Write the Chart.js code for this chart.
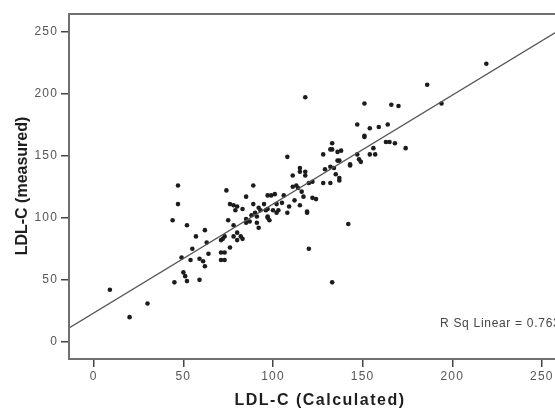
<!DOCTYPE html>
<html>
<head>
<meta charset="utf-8">
<script src="https://cdn.jsdelivr.net/npm/chart.js@4"></script>
<style>
  html, body { margin: 0; padding: 0; background: #fff; overflow: hidden; }
  #wrap { position: relative; width: 575px; height: 409px; }
</style>
</head>
<body>
<div id="wrap"><canvas id="chart"></canvas></div>
<script>
// LDL-C (Calculated) vs LDL-C (measured)
const calcX = [
  9, 20, 30, 45, 47, 47, 44, 52, 49, 50, 51, 52, 57, 55, 54, 59, 59, 61, 62, 62,
  63, 64, 71, 72, 73, 71, 73, 71, 73, 76, 74, 76, 78, 80, 83, 79, 75, 78, 80, 82,
  78, 83, 80, 85, 85, 87, 85, 89, 89, 90, 91, 93, 96, 91, 92, 97, 97, 95, 88, 92,
  97, 100, 103, 102, 108, 97, 98, 99, 101, 106, 102, 105, 109, 112, 115, 117, 119, 119, 122, 124,
  116, 114, 111, 113, 120, 122, 128, 132, 137, 137, 135, 129, 132, 134, 115, 118, 118, 111, 115, 108,
  118, 128, 132, 133, 136, 138, 133, 136, 137, 143, 143, 147, 148, 149, 154, 157, 156, 151, 151, 163,
  165, 168, 174, 147, 154, 159, 164, 151, 166, 170, 186, 194, 219, 142, 120, 133
];
const measY = [
  42, 20, 31, 48, 126, 111, 98, 94, 68, 56, 53, 49, 85, 75, 66, 50, 67, 65, 90, 61,
  80, 71, 82, 83, 85, 72, 72, 66, 66, 76, 122, 111, 110, 109, 107, 106, 98, 94, 88, 85,
  85, 83, 82, 117, 99, 97, 96, 111, 126, 104, 101, 106, 106, 96, 92, 100, 118, 111, 102, 108,
  107, 106, 106, 104, 104, 101, 98, 118, 119, 118, 111, 112, 109, 114, 110, 117, 105, 104, 116, 115,
  121, 124, 125, 126, 128, 129, 128, 128, 130, 132, 135, 139, 141, 140, 137, 137, 134, 134, 140, 149,
  197, 151, 155, 160, 153, 154, 155, 146, 146, 143, 142, 151, 147, 145, 151, 151, 156, 165, 166, 161,
  161, 160, 156, 175, 172, 173, 175, 192, 191, 190, 207, 192, 224, 95, 75, 48
];
// fit line end points
const fitX = [-14, 270];
const fitY = [11, 260];
const xTicks = [0, 50, 100, 150, 200, 250];
const yTicks = [0, 50, 100, 150, 200, 250];
const xTitle = 'LDL-C (Calculated)';
const yTitle = 'LDL-C (measured)';
const rSqText = 'R Sq Linear = 0.763';

const points = calcX.map((x, i) => ({x: x, y: measY[i]}));
const fitLine = fitX.map((x, i) => ({x: x, y: fitY[i]}));

const FONT = '"Liberation Sans", Arial, sans-serif';

const framePlugin = {
  id: 'frame',
  beforeDraw(chart) {
    // the reference text is a bit wide, spread the tick labels
    chart.ctx.letterSpacing = '1.2px';
  },
  afterDraw(chart) {
    const {ctx, chartArea: a} = chart;
    ctx.save();
    ctx.strokeStyle = '#707070';
    ctx.lineWidth = 2;
    ctx.strokeRect(a.left, a.top, a.right - a.left, a.bottom - a.top);

    ctx.fillStyle = '#444';
    ctx.font = '12px ' + FONT;
    ctx.textBaseline = 'middle';
    ctx.textAlign = 'left';
    ctx.letterSpacing = '0.7px';
    ctx.fillText(rSqText, a.left + 371, a.top + 310);

    // axis titles
    ctx.fillStyle = '#1e1e1e';
    ctx.font = 'bold 16px ' + FONT;
    ctx.textAlign = 'center';
    ctx.letterSpacing = '1.5px';
    ctx.fillText(xTitle, 320, 401);

    ctx.letterSpacing = '0px';
    ctx.translate(23, 186);
    ctx.rotate(-Math.PI / 2);
    ctx.fillText(yTitle, 0, 0);
    ctx.restore();
  }
};

const tickFont = {family: FONT, size: 12};

new Chart(document.getElementById('chart'), {
  type: 'scatter',
  data: {
    datasets: [
      {
        type: 'line',
        data: fitLine,
        borderColor: '#555',
        borderWidth: 1.3,
        pointRadius: 0,
        fill: false,
      },
      {
        data: points,
        backgroundColor: '#1c1c1c',
        borderWidth: 0,
        pointRadius: 2.3,
      }
    ]
  },
  options: {
    animation: false,
    responsive: true,
    maintainAspectRatio: false,
    layout: {padding: {top: 14, right: 8, left: 0, bottom: 0}},
    plugins: {
      legend: {display: false},
      tooltip: {enabled: false},
    },
    scales: {
      x: {
        type: 'linear',
        min: -13.8,
        max: 264,
        afterBuildTicks(scale) { scale.ticks = xTicks.map(v => ({value: v})); },
        afterFit(scale) { scale.height = 50; },
        grid: {drawOnChartArea: false, drawTicks: true, tickLength: 8, color: '#444', lineWidth: 1.5},
        border: {display: true, color: '#707070', width: 2},
        ticks: {font: tickFont, color: '#555', padding: 2, maxRotation: 0},
      },
      y: {
        type: 'linear',
        min: -13.7,
        max: 264,
        afterBuildTicks(scale) { scale.ticks = yTicks.map(v => ({value: v})); },
        afterFit(scale) { scale.width = 69; },
        grid: {drawOnChartArea: false, drawTicks: true, tickLength: 8, color: '#444', lineWidth: 1.5},
        border: {display: true, color: '#707070', width: 2},
        ticks: {font: tickFont, color: '#555', padding: 3},
      }
    }
  },
  plugins: [framePlugin]
});
</script>
</body>
</html>
